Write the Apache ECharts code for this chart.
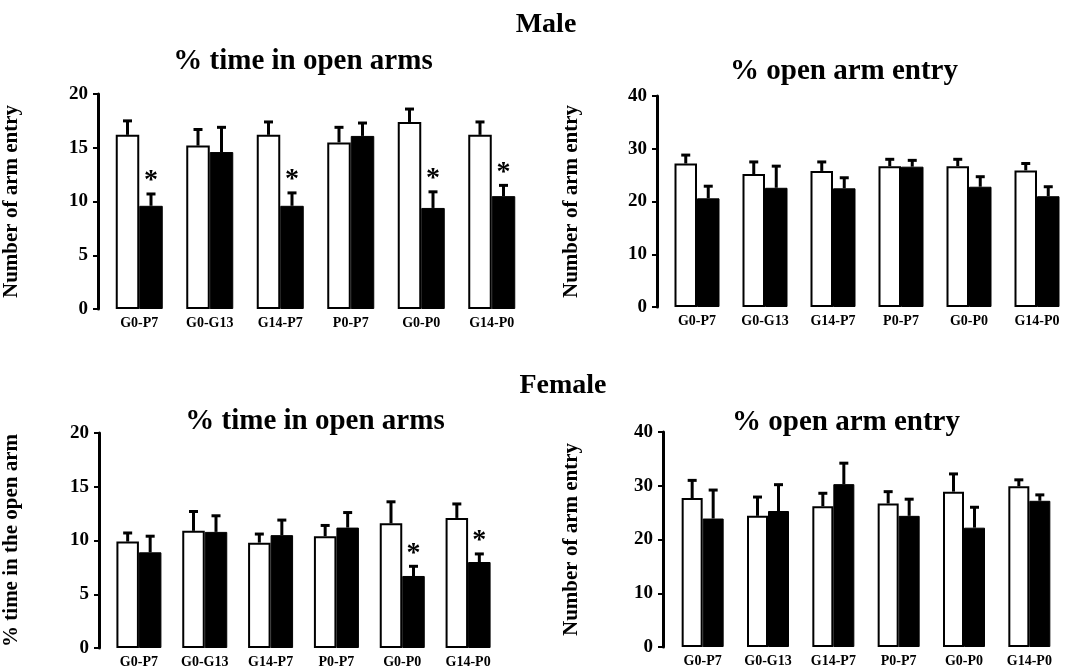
<!DOCTYPE html>
<html>
<head>
<meta charset="utf-8">
<script src="https://cdn.jsdelivr.net/npm/echarts@6/dist/echarts.min.js"></script>
<style>
  html, body { margin: 0; padding: 0; background: #fff; }
  #chart { width: 1075px; height: 669px; }
</style>
</head>
<body>
<div id="chart"></div>
<script>
// Exposure windows
const categories = ['G0-P7', 'G0-G13', 'G14-P7', 'P0-P7', 'G0-P0', 'G14-P0'];

// Male, % time in open arms (mean, SEM)
const maleTimeCtrl = [16.2, 15.2, 16.2, 15.5, 17.4, 16.2];
const maleTimeCtrlSem = [1.3, 1.5, 1.2, 1.4, 1.2, 1.2];
const maleTimeExp = [9.6, 14.6, 9.6, 16.1, 9.4, 10.5];
const maleTimeExpSem = [1.1, 2.3, 1.2, 1.2, 1.5, 1.0];
const maleTimeSig = [1, 0, 1, 0, 1, 1];

// Male, % open arm entry
const maleEntryCtrl = [27.2, 25.2, 25.8, 26.7, 26.7, 25.9];
const maleEntryCtrlSem = [1.6, 2.3, 1.7, 1.3, 1.3, 1.3];
const maleEntryExp = [20.6, 22.6, 22.5, 26.6, 22.8, 21.0];
const maleEntryExpSem = [2.3, 4.1, 2.0, 1.2, 1.9, 1.8];
const maleEntrySig = [0, 0, 0, 0, 0, 0];

// Female, % time in open arms
const femaleTimeCtrl = [9.9, 10.9, 9.8, 10.4, 11.6, 12.1];
const femaleTimeCtrlSem = [0.8, 1.8, 0.8, 1.0, 2.0, 1.3];
const femaleTimeExp = [8.9, 10.8, 10.5, 11.2, 6.7, 8.0];
const femaleTimeExpSem = [1.5, 1.5, 1.4, 1.4, 0.9, 0.75];
const femaleTimeSig = [0, 0, 0, 0, 1, 1];

// Female, % open arm entry
const femaleEntryCtrl = [27.7, 24.4, 26.2, 26.7, 28.9, 29.9];
const femaleEntryCtrlSem = [3.3, 3.5, 2.4, 2.2, 3.3, 1.2];
const femaleEntryExp = [23.9, 25.3, 30.3, 24.4, 22.2, 27.2];
const femaleEntryExpSem = [5.3, 4.9, 3.9, 3.1, 3.8, 1.1];
const femaleEntrySig = [0, 0, 0, 0, 0, 0];

const SERIF = '"Liberation Serif", "Times New Roman", serif';

const panels = [
  { grid: { left: 103, top: 94, width: 424, height: 215 }, offset: 6, max: 20, interval: 5,
    barWidth: 23.5, yName: 'Number of arm entry', nameGap: 76,
    ctrl: maleTimeCtrl, ctrlSem: maleTimeCtrlSem, exp: maleTimeExp, expSem: maleTimeExpSem, sig: maleTimeSig },
  { grid: { left: 663, top: 96, width: 408, height: 211 }, offset: 6, max: 40, interval: 10,
    barWidth: 22.5, yName: 'Number of arm entry', nameGap: 75,
    ctrl: maleEntryCtrl, ctrlSem: maleEntryCtrlSem, exp: maleEntryExp, expSem: maleEntryExpSem, sig: maleEntrySig },
  { grid: { left: 104, top: 433, width: 397, height: 215 }, offset: 7, max: 20, interval: 5,
    barWidth: 22.5, yName: '% time in the open arm', nameGap: 77,
    ctrl: femaleTimeCtrl, ctrlSem: femaleTimeCtrlSem, exp: femaleTimeExp, expSem: femaleTimeExpSem, sig: femaleTimeSig },
  { grid: { left: 670, top: 432, width: 392, height: 215 }, offset: 7, max: 40, interval: 10,
    barWidth: 21, yName: 'Number of arm entry', nameGap: 81,
    ctrl: femaleEntryCtrl, ctrlSem: femaleEntryCtrlSem, exp: femaleEntryExp, expSem: femaleEntryExpSem, sig: femaleEntrySig }
];

// Upward SEM whiskers with a cap; optional asterisk above significant groups
function errorSeries(p, idx, side, means, sems, sig) {
  return {
    type: 'custom',
    xAxisIndex: idx,
    yAxisIndex: idx,
    z: 5,
    silent: true,
    encode: { x: 0, y: 1 },
    data: means.map((m, i) => [i, m, sems[i], sig ? sig[i] : 0]),
    renderItem: function (params, api) {
      const i = api.value(0), m = api.value(1), s = api.value(2), star = api.value(3);
      const base = api.coord([i, m]);
      const top = api.coord([i, m + s]);
      const x = base[0] + side * p.barWidth / 2;
      const children = [
        { type: 'line', shape: { x1: x, y1: base[1], x2: x, y2: top[1] },
          style: { stroke: '#000', lineWidth: 3 } },
        { type: 'line', shape: { x1: x - 4.5, y1: top[1], x2: x + 4.5, y2: top[1] },
          style: { stroke: '#000', lineWidth: 3 } }
      ];
      if (star) {
        children.push({
          type: 'text', x: x, y: top[1] - 13,
          style: { text: '*', fontSize: 28, fontWeight: 'bold', fontFamily: SERIF, fill: '#000',
                   align: 'center', verticalAlign: 'middle', textAlign: 'center', textVerticalAlign: 'middle' }
        });
      }
      return { type: 'group', children: children };
    }
  };
}

const grids = [], xAxes = [], yAxes = [], series = [];
panels.forEach((p, idx) => {
  grids.push(p.grid);
  xAxes.push({
    type: 'category', gridIndex: idx, data: categories,
    axisLine: { show: false }, axisTick: { show: false },
    axisLabel: { interval: 0, margin: 7, color: '#000', fontSize: 14, fontWeight: 'bold', fontFamily: SERIF }
  });
  yAxes.push({
    type: 'value', gridIndex: idx, min: 0, max: p.max, interval: p.interval, offset: p.offset,
    name: p.yName, nameLocation: 'middle', nameRotate: 90, nameGap: p.nameGap,
    nameTextStyle: { color: '#000', fontSize: 21, fontWeight: 'bold', fontFamily: SERIF },
    axisLine: { show: true, lineStyle: { color: '#000', width: 3 } },
    axisTick: { show: true, length: 5, lineStyle: { color: '#000', width: 2 } },
    splitLine: { show: false },
    axisLabel: { margin: 10, color: '#000', fontSize: 19, fontWeight: 'bold', fontFamily: SERIF }
  });
  series.push({
    type: 'bar', xAxisIndex: idx, yAxisIndex: idx, data: p.ctrl,
    barWidth: p.barWidth, barGap: '0%',
    itemStyle: { color: '#fff', borderColor: '#000', borderWidth: 2 }
  });
  series.push({
    type: 'bar', xAxisIndex: idx, yAxisIndex: idx, data: p.exp,
    barWidth: p.barWidth, barGap: '0%',
    itemStyle: { color: '#000', borderColor: '#000', borderWidth: 1 }
  });
  series.push(errorSeries(p, idx, -1, p.ctrl, p.ctrlSem, null));
  series.push(errorSeries(p, idx, 1, p.exp, p.expSem, p.sig));
});

function heading(text, x, y, size) {
  return {
    type: 'text', x: x, y: y, z: 10,
    style: { text: text, fontSize: size, fontWeight: 'bold', fontFamily: SERIF, fill: '#000',
             align: 'center', verticalAlign: 'middle', textAlign: 'center', textVerticalAlign: 'middle' }
  };
}

const chart = echarts.init(document.getElementById('chart'), null, { renderer: 'canvas' });
chart.setOption({
  backgroundColor: '#fff',
  animation: false,
  grid: grids,
  xAxis: xAxes,
  yAxis: yAxes,
  series: series,
  graphic: [
    heading('Male', 546, 25, 28),
    heading('% time in open arms', 303, 62, 29),
    heading('% open arm entry', 844, 72, 29),
    heading('Female', 563, 386, 28),
    heading('% time in open arms', 315, 422, 29),
    heading('% open arm entry', 846, 423, 29)
  ]
});
</script>
</body>
</html>
